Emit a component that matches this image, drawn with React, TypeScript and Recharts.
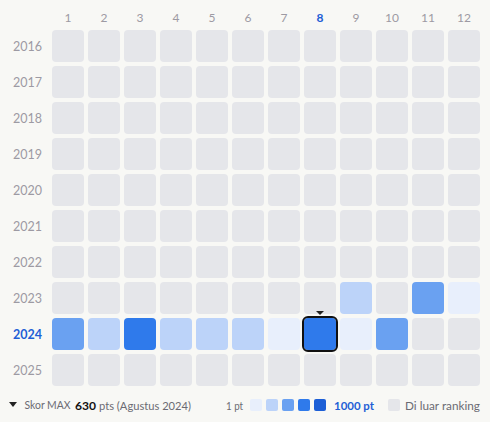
import React from "react";
import { ScatterChart, Scatter, XAxis, YAxis } from "recharts";

const months = [1, 2, 3, 4, 5, 6, 7, 8, 9, 10, 11, 12];
const years = [2016, 2017, 2018, 2019, 2020, 2021, 2022, 2023, 2024, 2025];
const scores2023 = [0, 0, 0, 0, 0, 0, 0, 0, 140, 0, 300, 10];
const scores2024 = [350, 150, 580, 120, 130, 110, 20, 630, 15, 320, 0, 0];
const highlightMonth = 8;
const highlightYear = 2024;
const legendLevels = ["#e8effc", "#bcd3f9", "#6aa1f1", "#2f7aeb", "#1d5fd6"];

const scoresByYear: Record<number, number[]> = { 2023: scores2023, 2024: scores2024 };

const data = years.flatMap((y) =>
  months.map((m, i) => ({ month: m, year: y, pts: (scoresByYear[y] || [])[i] || 0 }))
);

const FONT = "Lato, sans-serif";
const EMPTY = "#e5e6ea";
const BLUE = "#1f5fd6";
const GREY = "#9d9aa3";
const TEXT = "#6b6b73";

function colorFor(p: number) {
  if (!p) return EMPTY;
  if (p < 50) return legendLevels[0];
  if (p < 200) return legendLevels[1];
  if (p < 400) return legendLevels[2];
  if (p < 700) return legendLevels[3];
  return legendLevels[4];
}

const Cell = (props: any) => {
  const { cx, cy, payload } = props;
  const s = 32;
  const hl = payload.month === highlightMonth && payload.year === highlightYear;
  return (
    <g>
      <rect x={cx - s / 2} y={cy - s / 2} width={s} height={s} rx={4} fill={colorFor(payload.pts)} />
      {hl && (
        <>
          <rect x={cx - 17} y={cy - 17} width={34} height={34} rx={5} fill="none" stroke="#111" strokeWidth={2} />
          <path d={`M${cx - 4},${cy - 23} L${cx + 4},${cy - 23} L${cx},${cy - 19} Z`} fill="#222" />
        </>
      )}
    </g>
  );
};

const MonthTick = (props: any) => {
  const { x, payload } = props;
  const hl = payload.value === highlightMonth;
  return (
    <text x={x} y={17} textAnchor="middle" dominantBaseline="central" fontSize={12} fontFamily={FONT}
      fill={hl ? BLUE : GREY} fontWeight={hl ? 700 : 400}>
      {payload.value}
    </text>
  );
};

const YearTick = (props: any) => {
  const { y, payload } = props;
  const hl = payload.value === highlightYear;
  return (
    <text x={42} y={y} textAnchor="end" dominantBaseline="central" fontSize={12.5} fontFamily={FONT}
      fill={hl ? BLUE : GREY} fontWeight={hl ? 700 : 400}>
      {payload.value}
    </text>
  );
};

const T = (p: any) => (
  <text x={p.x} y={17} dominantBaseline="central" fontSize={p.size || 12} fontFamily={FONT} fill={p.fill || TEXT}
    fontWeight={p.bold ? 700 : 400} textLength={p.len} lengthAdjust="spacingAndGlyphs">
    {p.children}
  </text>
);

const LegendRow = () => (
  <svg width={490} height={34} style={{ display: "block" }}>
    <path d="M9,14 L17,14 L13,19 Z" fill="#222" />
    <T x={24.5} len={46} size={10.5}>Skor MAX</T>
    <T x={75} len={21} size={11} bold fill="#111">630</T>
    <T x={99} len={92}>pts (Agustus 2024)</T>
    <T x={226} len={17}>1 pt</T>
    {legendLevels.map((c, i) => (
      <rect key={c} x={250 + i * 16} y={11} width={12} height={12} rx={2} fill={c} />
    ))}
    <T x={334} len={40} bold fill={BLUE}>1000 pt</T>
    <rect x={388} y={11} width={12} height={12} rx={2} fill={EMPTY} />
    <T x={405} len={75}>Di luar ranking</T>
  </svg>
);

export default function App() {
  return (
    <div style={{ position: "absolute", left: 0, top: 0, width: 490, height: 422, background: "#f8f8f5" }}>
      <ScatterChart width={490} height={388} margin={{ top: 0, right: 8, bottom: 0, left: 0 }}>
        <XAxis type="number" dataKey="month" orientation="top" domain={[0.5, 12.5]} ticks={months}
          axisLine={false} tickLine={false} height={28} tick={<MonthTick />} interval={0} />
        <YAxis type="number" dataKey="year" domain={[2015.5, 2025.5]} ticks={years} reversed
          axisLine={false} tickLine={false} width={50} tick={<YearTick />} interval={0} />
        <Scatter data={data} shape={<Cell />} isAnimationActive={false} />
      </ScatterChart>
      <LegendRow />
    </div>
  );
}
